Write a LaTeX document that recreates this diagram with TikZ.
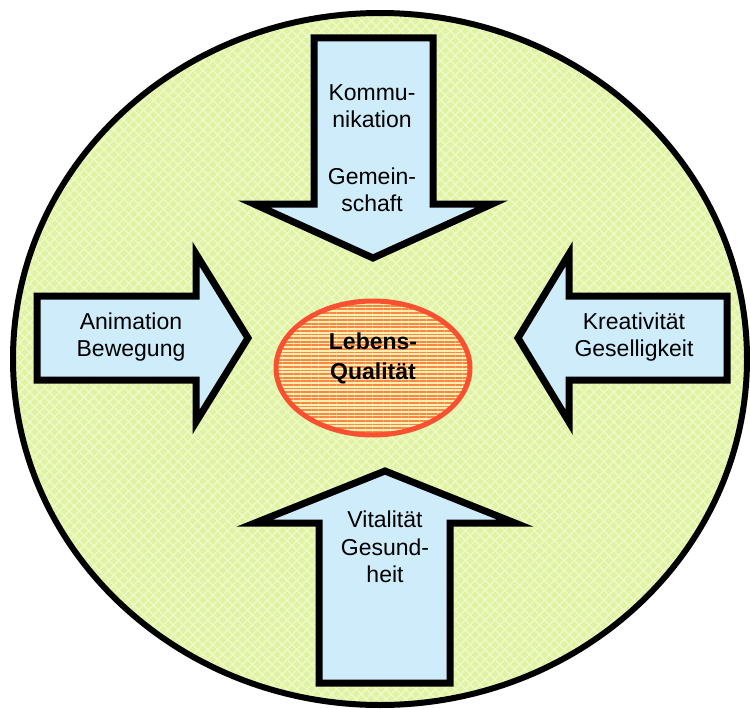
\documentclass[tikz,border=0pt]{standalone}
\usepackage{fontspec}
\setmainfont{Liberation Sans}
\usetikzlibrary{patterns,patterns.meta}
\definecolor{wiese}{RGB}{224,243,160}
\definecolor{wieselicht}{RGB}{238,249,202}
\definecolor{pfeilblau}{RGB}{206,236,250}
\definecolor{kernrot}{RGB}{250,80,50}
\definecolor{streifen}{RGB}{248,135,70}
\definecolor{kerngelb}{RGB}{245,240,175}
\begin{document}
\begin{tikzpicture}[x=1pt,y=-1pt,line join=miter,
		pfeil/.style={draw=black,line width=7pt,fill=pfeilblau},
		etikett/.style={align=center,inner sep=0pt,font=\fontsize{23}{27.5}\selectfont}]
				\useasboundingbox (0,0) rectangle (750,709);
				\draw[line width=6pt,preaction={fill=wiese},preaction={pattern={Lines[angle=45,distance=7pt,line width=1.5pt]},pattern color=wieselicht},pattern={Lines[angle=-45,distance=7pt,line width=1.5pt]},pattern color=wieselicht] (380,359) ellipse [x radius=367,y radius=346];
				\draw[pfeil] (314,38) -- (433,38) -- (433,204) -- (492,204) -- (373,258) -- (254,204) -- (314,204) -- cycle;
				\draw[pfeil] (37,296) -- (196,296) -- (196,254) -- (248,338) -- (196,422) -- (196,380) -- (37,380) -- cycle;
				\draw[pfeil] (727,296) -- (569,296) -- (569,254) -- (518,338) -- (569,422) -- (569,380) -- (727,380) -- cycle;
				\draw[pfeil] (319,683) -- (450,683) -- (450,523) -- (515,523) -- (385,471) -- (255,523) -- (319,523) -- cycle;
				\draw[line width=5pt,draw=kernrot,preaction={fill=kerngelb},pattern={Lines[angle=0,distance=3.6pt,line width=1.8pt]},pattern color=streifen] (373,368) ellipse [x radius=97,y radius=67];
				\node[etikett] (kommunikation) at (372,148) {Kommu-\\nikation\\[29pt]Gemein-\\schaft};
				\node[etikett] (animation) at (131,337) {Animation\\Bewegung};
				\node[etikett] (kreativitaet) at (634,337) {Kreativität\\Geselligkeit};
				\node[etikett] (vitalitaet) at (385,547) {Vitalität\\Gesund-\\heit};
				\node[etikett,font=\bfseries\fontsize{23}{30}\selectfont] (lebensqualitaet) at (373,358) {Lebens-\\Qualität};
			\end{tikzpicture}
\end{document}
